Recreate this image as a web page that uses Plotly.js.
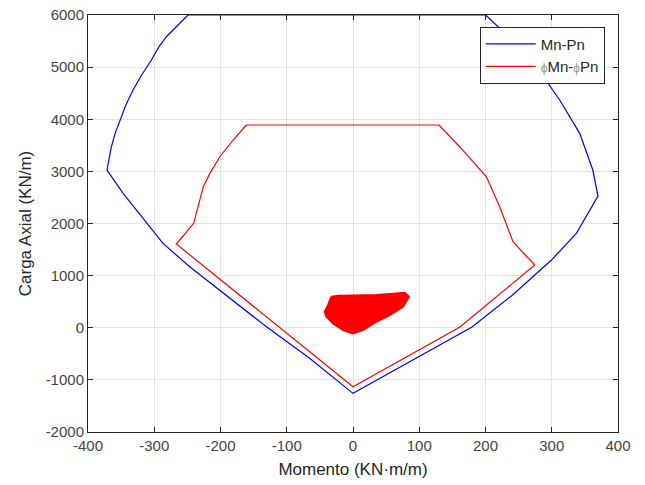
<!DOCTYPE html>
<html>
<head>
<meta charset="utf-8">
<script src="https://cdn.plot.ly/plotly-3.0.1.min.js"></script>
<style>html,body{margin:0;padding:0;background:#fff;}#chart{width:645px;height:485px;}</style>
</head>
<body>
<div id="chart"></div>
<script>
// Nominal interaction diagram Mn-Pn (closed outline)
const mnX = [-249, -265, -281.7, -294, -304.3, -319, -332, -343, -352, -359, -364.7, -371.3, -347, -319, -286.8, -246.5, -201, -130.7, -65.4, 0,
             179, 240, 299.5, 337.2, 369.8, 362, 342.2, 312, 276.8, 248, 218.9, 200.3, -249];
const mnY = [6000, 5800, 5583, 5370, 5136, 4850, 4561, 4270, 3985, 3730, 3473, 3026, 2579, 2130, 1619, 1170, 723, 19, -587, -1259,
             8, 620, 1299, 1811, 2527, 3026, 3730, 4370, 5008, 5420, 5775, 6000, 6000];

// Design interaction diagram phiMn-phiPn (closed outline)
const phiX = [-161, -181, -201, -216, -226, -234, -240.5, -266.6, -65.4, 0,
              161, 274.3, 241.5, 221.4, 201.4, 161, 129.8, -161];
const phiY = [3890, 3601, 3281, 2962, 2705, 2322, 2003, 1606, -472, -1132,
              8, 1203, 1650, 2322, 2897, 3473, 3890, 3890];

// Cloud of load demands (outline of the red region)
const demX = [-32.6, -22, 0, 35.3, 60, 78, 84.5, 75.5, 55.4, 35.3, 15, 0, -15, -30, -40, -42.7, -37.7, -32.6];
const demY = [595, 612, 620, 627, 650, 672, 595, 403, 244, 115, -44, -107, -44, 84, 211, 307, 435, 595];

const xTicks = [-400, -300, -200, -100, 0, 100, 200, 300, 400];
const yTicks = [-2000, -1000, 0, 1000, 2000, 3000, 4000, 5000, 6000];

const FONT = 'Liberation Sans, Arial, sans-serif';

const traces = [
  {x: mnX, y: mnY, type: 'scatter', mode: 'lines', name: 'Mn-Pn',
   line: {color: '#0000ff', width: 1.2}},
  {x: phiX, y: phiY, type: 'scatter', mode: 'lines',
   name: '<span style="color:#999;font-size:12px">ϕ</span>Mn-<span style="color:#999;font-size:12px">ϕ</span>Pn',
   line: {color: '#ff0000', width: 1.2}},
  {x: demX, y: demY, type: 'scatter', mode: 'lines', fill: 'toself', showlegend: false,
   fillcolor: '#ff0000', line: {color: '#ff0000', width: 2}}
];

const axisCommon = {
  showline: true, mirror: 'ticks', linecolor: '#262626', linewidth: 1,
  ticks: 'inside', ticklen: 5, tickcolor: '#262626',
  showgrid: true, gridcolor: '#e3e3e3', gridwidth: 1, zeroline: false,
  tickfont: {family: FONT, size: 15, color: '#454545'}
};

const layout = {
  width: 645, height: 485,
  margin: {l: 88, r: 27, t: 15, b: 53},
  paper_bgcolor: '#ffffff', plot_bgcolor: '#ffffff',
  showlegend: true,
  legend: {x: 0.975, y: 0.972, xanchor: 'right', yanchor: 'top',
           bgcolor: '#ffffff', bordercolor: '#262626', borderwidth: 1,
           font: {family: FONT, size: 15, color: '#262626'},
           itemwidth: 50, tracegroupgap: 0},
  xaxis: Object.assign({}, axisCommon, {
    range: [-400, 400], tickvals: xTicks, ticktext: xTicks.map(String),
    title: {text: 'Momento (KN·m/m)', standoff: 10,
            font: {family: FONT, size: 17, color: '#262626'}}
  }),
  yaxis: Object.assign({}, axisCommon, {
    range: [-2000, 6000], tickvals: yTicks, ticktext: yTicks.map(String),
    title: {text: 'Carga Axial (KN/m)', standoff: 9,
            font: {family: FONT, size: 17, color: '#262626'}}
  })
};

Plotly.newPlot('chart', traces, layout, {displayModeBar: false, staticPlot: true});
</script>
</body>
</html>
